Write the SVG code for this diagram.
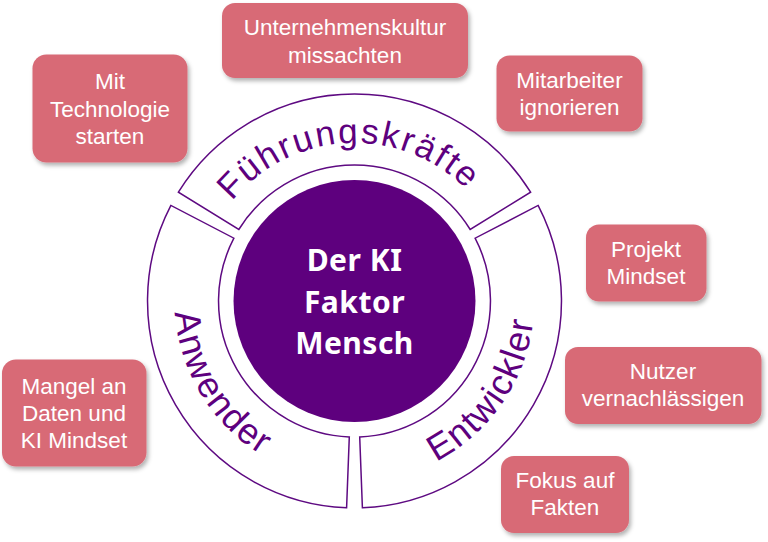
<svg xmlns="http://www.w3.org/2000/svg" width="768" height="542" viewBox="0 0 768 542">
<defs>
<filter id="sh" x="-10%" y="-10%" width="125%" height="130%">
<feDropShadow dx="2" dy="3" stdDeviation="2" flood-color="#000" flood-opacity="0.3"/>
</filter>
<path id="pTop" d="M 196.5 301 A 158 158 0 0 1 512.5 301"/>
<path id="pLeft" d="M 263.5 143.4 A 182 182 0 0 0 445.5 458.6"/>
<path id="pRight" d="M 263.5 458.6 A 182 182 0 0 0 445.5 143.4"/>
<style>
.box{fill:#D86A76;filter:url(#sh)}
.bt{font-family:"Liberation Sans",Arial,sans-serif;font-size:22.5px;fill:#fff;text-anchor:middle}
.seg{fill:#fff;stroke:#5E0A82;stroke-width:1.5}
.arc{font-family:"Liberation Sans",Arial,sans-serif;fill:#5E007E;text-anchor:middle}
.ct{font-family:"Noto Sans","Liberation Sans",sans-serif;font-weight:bold;font-size:30px;fill:#fff;text-anchor:middle;letter-spacing:0.5px}
</style>
</defs>
<g id="ring">
<g id="seg-fuehrung">
<path class="seg" d="M 178.4 192.2 A 207 207 0 0 1 530.6 192.2 L 470.2 229.5 A 136 136 0 0 0 238.8 229.5 Z"/>
<text class="arc" font-size="35" letter-spacing="2.2"><textPath href="#pTop" startOffset="48.6%">Führungskräfte</textPath></text>
</g>
<g id="seg-entwickler">
<path class="seg" d="M 538.1 205.4 A 207 207 0 0 1 362.4 507.8 L 359.7 436.9 A 136 136 0 0 0 475.1 238.2 Z"/>
<text class="arc" font-size="36" letter-spacing="1.5"><textPath href="#pRight" startOffset="47.5%">Entwickler</textPath></text>
</g>
<g id="seg-anwender">
<path class="seg" d="M 346.6 507.8 A 207 207 0 0 1 170.9 205.4 L 233.9 238.2 A 136 136 0 0 0 349.3 436.9 Z"/>
<text class="arc" font-size="36" letter-spacing="1.5"><textPath href="#pLeft" startOffset="50.8%">Anwender</textPath></text>
</g>
</g>
<g id="center">
<circle cx="354.5" cy="301" r="121" fill="#5E007E"/>
<text class="ct" x="354.5" y="271">Der KI</text>
<text class="ct" x="354.5" y="312.5">Faktor</text>
<text class="ct" x="354.5" y="353.5">Mensch</text>
</g>
<g id="n-kultur">
<rect class="box" x="222" y="3" width="246" height="75" rx="13"/>
<text class="bt" x="345" y="34.5">Unternehmenskultur</text>
<text class="bt" x="345" y="62.5">missachten</text>
</g>
<g id="n-tech">
<rect class="box" x="32.5" y="54.5" width="155" height="108" rx="14"/>
<text class="bt" x="110" y="88.5">Mit</text>
<text class="bt" x="110" y="116.5">Technologie</text>
<text class="bt" x="110" y="144">starten</text>
</g>
<g id="n-mitarbeiter">
<rect class="box" x="496.5" y="55.5" width="146" height="76" rx="13"/>
<text class="bt" x="569.5" y="87.5">Mitarbeiter</text>
<text class="bt" x="569.5" y="115">ignorieren</text>
</g>
<g id="n-projekt">
<rect class="box" x="586" y="224.5" width="120.5" height="77" rx="13"/>
<text class="bt" x="646" y="256.5">Projekt</text>
<text class="bt" x="646" y="283.5">Mindset</text>
</g>
<g id="n-nutzer">
<rect class="box" x="565" y="347" width="196.5" height="77" rx="13"/>
<text class="bt" x="663" y="379">Nutzer</text>
<text class="bt" x="663" y="406">vernachlässigen</text>
</g>
<g id="n-fokus">
<rect class="box" x="501" y="456" width="128" height="77" rx="13"/>
<text class="bt" x="565" y="487.5">Fokus auf</text>
<text class="bt" x="565" y="515">Fakten</text>
</g>
<g id="n-mangel">
<rect class="box" x="2" y="359.5" width="144.5" height="107" rx="14"/>
<text class="bt" x="74" y="393.5">Mangel an</text>
<text class="bt" x="74" y="421">Daten und</text>
<text class="bt" x="74" y="448">KI Mindset</text>
</g>
</svg>
